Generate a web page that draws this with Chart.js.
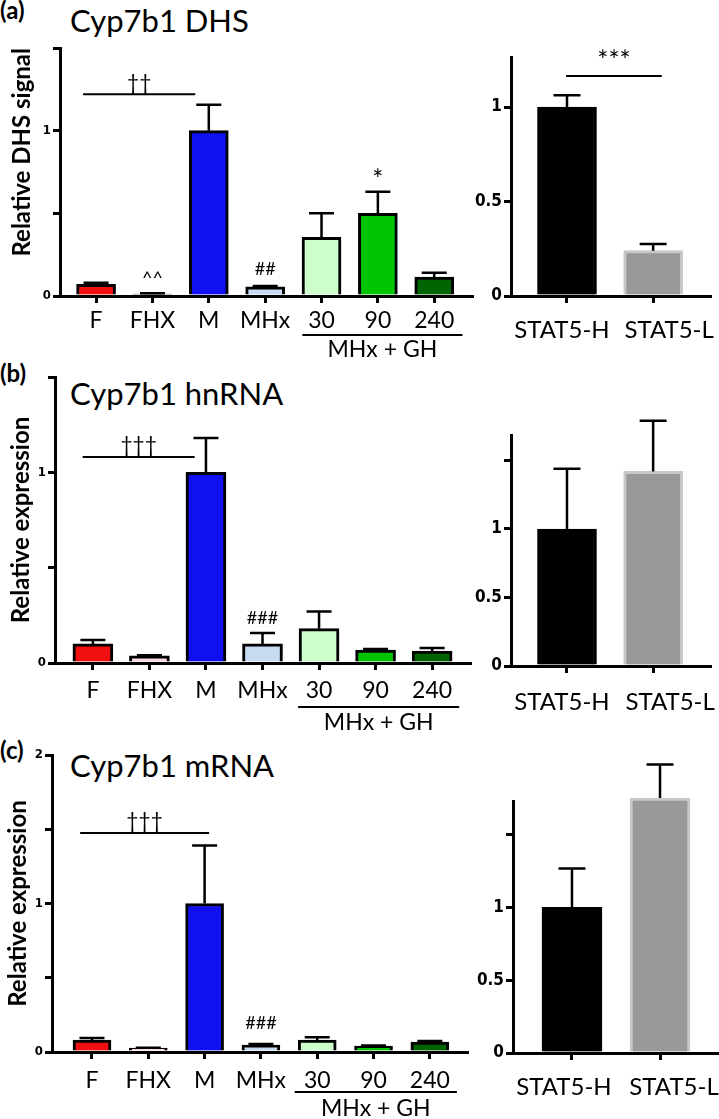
<!DOCTYPE html>
<html>
<head>
<meta charset="utf-8">
<script src="https://cdn.jsdelivr.net/npm/chart.js@4.4.1/dist/chart.umd.min.js"></script>
<style>
  body { margin: 0; width: 719px; height: 1119px; position: relative; background: #fff; overflow: hidden; }
  .txt { position: absolute; white-space: nowrap; line-height: 1; color: #000; font-family: Lato, sans-serif; }
  .letter { font-weight: bold; font-size: 24px; }
  .title { font-size: 31px; }
</style>
</head>
<body>
<div class="txt letter" style="left:0;top:-2px">(a)</div>
<div class="txt title" style="left:70px;top:5px">Cyp7b1 DHS</div>
<div class="txt letter" style="left:0;top:361px">(b)</div>
<div class="txt title" style="left:70px;top:378px">Cyp7b1 hnRNA</div>
<div class="txt letter" style="left:0;top:738px">(c)</div>
<div class="txt title" style="left:70px;top:750px">Cyp7b1 mRNA</div>

<script>
// categories
const groups = ["F", "FHX", "M", "MHx", "30", "90", "240"]
const statGroups = ["STAT5-H", "STAT5-L"]

// DHS signal (mean, sem)
const dhsMean = [0.07, 0.012, 1.0, 0.055, 0.355, 0.50, 0.115]
const dhsSem = [0.01, 0.004, 0.157, 0.006, 0.145, 0.13, 0.025]
const dhsStatMean = [1.0, 0.24]
const dhsStatSem = [0.063, 0.035]

// hnRNA
const hnMean = [0.10, 0.037, 1.0, 0.10, 0.18, 0.068, 0.063]
const hnSem = [0.02, 0.003, 0.18, 0.057, 0.09, 0.005, 0.016]
const hnStatMean = [1.0, 1.42]
const hnStatSem = [0.44, 0.37]

// mRNA
const mrMean = [0.081, 0.027, 1.0, 0.047, 0.081, 0.04, 0.067]
const mrSem = [0.013, 0.002, 0.39, 0.007, 0.019, 0.003, 0.007]
const mrStatMean = [1.0, 1.75]
const mrStatSem = [0.267, 0.23]

// tick values and labels
const leftTicks = [0, 0.5, 1, 1.5]
const leftTickLabels = ["0", "", "1", ""]
const leftTicksC = [0, 0.5, 1, 1.5, 2]
const leftTickLabelsC = ["0", "", "1", "", "2"]
const rightTicksA = [0, 0.5, 1]
const rightTickLabelsA = ["0", "0.5", "1"]
const rightTicks = [0, 0.5, 1, 1.5]
const rightTickLabels = ["0", "0.5", "1", ""]

const groupFill = ["#f01010", "#f8d8dc", "#1010f0", "#c6daf2", "#ccffcc", "#00c400", "#006400"]
const statFill = ["#000000", "#999999"]
const statStroke = ["#000000", "#c8c8c8"]

const numFamily = "'Liberation Sans Narrow', 'DejaVu Sans Condensed', sans-serif"

Chart.defaults.font.family = "Lato, sans-serif"
Chart.defaults.color = "#000"

// error bars, significance marks, group line and the spread-out STAT5 labels
const extras = {
    id: "extras",
    afterDatasetsDraw(chart, args, o) {
        const ctx = chart.ctx
        const xs = chart.scales.x
        const ys = chart.scales.y
        const yb = chart.chartArea.bottom
        const meta = chart.getDatasetMeta(0)
        ctx.save()
        ctx.strokeStyle = "#000"
        ctx.fillStyle = "#000"
        ctx.lineWidth = 2.5
        o.sem.forEach((e, i) => {
            const bar = meta.data[i]
            const top = ys.getPixelForValue(o.mean[i] + e)
            ctx.beginPath()
            ctx.moveTo(bar.x, bar.y)
            ctx.lineTo(bar.x, top)
            ctx.moveTo(bar.x - o.cap / 2, top)
            ctx.lineTo(bar.x + o.cap / 2, top)
            ctx.stroke()
        })
        ctx.lineWidth = 2
        ctx.textAlign = "center"
        for (const l of o.lines || []) {
            const y = ys.getPixelForValue(l.y)
            const x1 = xs.getPixelForValue(l.x1)
            const x2 = xs.getPixelForValue(l.x2)
            ctx.beginPath()
            ctx.moveTo(x1, y)
            ctx.lineTo(x2, y)
            ctx.stroke()
            ctx.font = l.font
            ctx.textBaseline = "bottom"
            ctx.fillText(l.text, (x1 + x2) / 2, y - 1)
        }
        for (const m of o.marks || []) {
            ctx.font = m.font
            ctx.textBaseline = "middle"
            ctx.fillText(m.text, xs.getPixelForValue(m.x), ys.getPixelForValue(m.y))
        }
        if (o.group) {
            const g = o.group
            const x1 = xs.getPixelForValue(g.x1)
            const x2 = xs.getPixelForValue(g.x2)
            ctx.beginPath()
            ctx.moveTo(x1, yb + g.lineDy)
            ctx.lineTo(x2, yb + g.lineDy)
            ctx.stroke()
            ctx.font = "23px Lato"
            ctx.textBaseline = "alphabetic"
            ctx.fillText(g.text, (x1 + x2) / 2, yb + g.textDy)
        }
        if (o.catLabels) {
            const L = o.catLabels
            ctx.font = L.font
            ctx.textBaseline = "alphabetic"
            o.cats.forEach((t, i) => ctx.fillText(t, xs.getPixelForValue(i) + L.shift[i], yb + L.dy))
        }
        ctx.restore()
    }
}

function build(c) {
    const cv = document.createElement("canvas")
    cv.width = c.rect[2]
    cv.height = c.rect[3]
    cv.style.cssText = `position:absolute;left:${c.rect[0]}px;top:${c.rect[1]}px`
    document.body.appendChild(cv)
    const yW = c.area[0] - c.rect[0]
    const xH = c.rect[1] + c.rect[3] - c.area[3]
    const axisGrid = { drawOnChartArea: false, drawTicks: true, tickLength: 7, tickWidth: 3, lineWidth: 3, color: "#000", tickColor: "#000" }
    const axisBorder = { display: true, width: 3, color: "#000" }

    new Chart(cv, {
        type: "bar",
        data: {
            datasets: [{
                data: c.mean.map((v, i) => ({ x: i, y: v })),
                backgroundColor: c.fill,
                borderColor: c.stroke,
                borderWidth: 3,
                borderSkipped: "start",
                barThickness: c.barW,
                clip: false
            }]
        },
        options: {
            responsive: false,
            animation: false,
            devicePixelRatio: 1,
            layout: { padding: { left: 0, bottom: 0, top: c.area[1] - c.rect[1], right: c.rect[0] + c.rect[2] - c.area[2] } },
            plugins: {
                legend: { display: false },
                tooltip: { enabled: false },
                extras: { mean: c.mean, sem: c.sem, cap: c.cap, lines: c.lines, marks: c.marks, group: c.group, cats: c.cats, catLabels: c.catLabels }
            },
            scales: {
                x: {
                    type: "linear",
                    offset: false,
                    bounds: "data",
                    min: c.xr[0],
                    max: c.xr[1],
                    afterBuildTicks: s => { s.ticks = c.cats.map((_, i) => ({ value: i })) },
                    afterFit: s => { s.height = xH },
                    ticks: {
                        display: !c.catLabels,
                        callback: (v, i) => c.cats[i],
                        font: { size: c.catSize },
                        padding: c.catPad,
                        autoSkip: false, maxRotation: 0, minRotation: 0
                    },
                    grid: Object.assign({ offset: false }, axisGrid),
                    border: axisBorder
                },
                y: {
                    bounds: "data",
                    min: 0,
                    max: c.yMax,
                    afterBuildTicks: s => { s.ticks = c.ticks.map(v => ({ value: v })) },
                    afterFit: s => { s.width = yW },
                    ticks: { callback: (v, i) => c.tickLabels[i], font: { family: numFamily, weight: "bold", size: c.numSize }, padding: 2 },
                    grid: axisGrid,
                    border: axisBorder,
                    title: c.yTitle ? {
                        display: true, text: c.yTitle, align: c.titleAlign,
                        font: { family: "Lato", weight: "bold", size: 24 },
                        padding: { top: c.titlePad, bottom: 0 }
                    } : { display: false }
                }
            }
        },
        plugins: [extras]
    })
}

const sigFont = "21px Lato"
const hashFont = "18px Lato"
const statFont = "24px Lato"

// (a) DHS
build({
    rect: [0, 0, 480, 370], area: [60, 48, 472, 296], xr: [-0.64, 6.67], yMax: 1.5,
    cats: groups, mean: dhsMean, sem: dhsSem, fill: groupFill, stroke: "#000", barW: 39, cap: 25,
    ticks: leftTicks, tickLabels: leftTickLabels, numSize: 13, catSize: 23, catPad: 4,
    yTitle: "Relative DHS signal", titleAlign: "end", titlePad: 8,
    lines: [{ x1: -0.23, x2: 1.76, y: 1.22, text: "††", font: sigFont }],
    marks: [{ x: 1, y: 0.108, text: "^^", font: hashFont }, { x: 3, y: 0.163, text: "##", font: hashFont }, { x: 5, y: 0.7, text: "*", font: "26px Lato" }],
    group: { x1: 3.66, x2: 6.5, lineDy: 39, textDy: 61, text: "MHx + GH" }
})
build({
    rect: [450, 0, 269, 370], area: [511, 57, 710, 296], xr: [-0.65, 1.66], yMax: 1.265,
    cats: statGroups, mean: dhsStatMean, sem: dhsStatSem, fill: statFill, stroke: statStroke, barW: 59, cap: 27,
    ticks: rightTicksA, tickLabels: rightTickLabelsA, numSize: 17,
    catLabels: { font: statFont, shift: [-5, 16], dy: 42 },
    lines: [{ x1: -0.01, x2: 1.1, y: 1.164, text: "***", font: "26px Lato" }]
})

// (b) hnRNA
build({
    rect: [0, 340, 480, 400], area: [55, 377, 470, 663], xr: [-0.67, 6.67], yMax: 1.5,
    cats: groups, mean: hnMean, sem: hnSem, fill: groupFill, stroke: "#000", barW: 40, cap: 25,
    ticks: leftTicks, tickLabels: leftTickLabels, numSize: 13, catSize: 23, catPad: 7,
    yTitle: "Relative expression", titleAlign: "center", titlePad: 7,
    lines: [{ x1: -0.18, x2: 1.8, y: 1.08, text: "†††", font: sigFont }],
    marks: [{ x: 3, y: 0.237, text: "###", font: hashFont }],
    group: { x1: 3.63, x2: 6.48, lineDy: 44, textDy: 67, text: "MHx + GH" }
})
build({
    rect: [450, 370, 269, 370], area: [511, 435, 710, 666], xr: [-0.65, 1.66], yMax: 1.686,
    cats: statGroups, mean: hnStatMean, sem: hnStatSem, fill: statFill, stroke: statStroke, barW: 59, cap: 27,
    ticks: rightTicks, tickLabels: rightTickLabels, numSize: 17,
    catLabels: { font: statFont, shift: [-5, 17], dy: 44 }
})

// (c) mRNA
build({
    rect: [0, 720, 480, 399], area: [52, 755, 467, 1052], xr: [-0.71, 6.66], yMax: 2,
    cats: groups, mean: mrMean, sem: mrSem, fill: groupFill, stroke: "#000", barW: 38, cap: 25,
    ticks: leftTicksC, tickLabels: leftTickLabelsC, numSize: 13, catSize: 23, catPad: 8,
    yTitle: "Relative expression", titleAlign: "center", titlePad: 4,
    lines: [{ x1: -0.21, x2: 2.08, y: 1.475, text: "†††", font: sigFont }],
    marks: [{ x: 3, y: 0.195, text: "###", font: hashFont }],
    group: { x1: 3.6, x2: 6.48, lineDy: 40, textDy: 64, text: "MHx + GH" }
})
build({
    rect: [450, 740, 269, 379], area: [513, 801, 719, 1053], xr: [-0.67, 1.67], yMax: 1.73,
    cats: statGroups, mean: mrStatMean, sem: mrStatSem, fill: statFill, stroke: statStroke, barW: 60, cap: 27,
    ticks: rightTicks, tickLabels: rightTickLabels, numSize: 17,
    catLabels: { font: statFont, shift: [-8, 14], dy: 42 }
})
</script>
</body>
</html>
